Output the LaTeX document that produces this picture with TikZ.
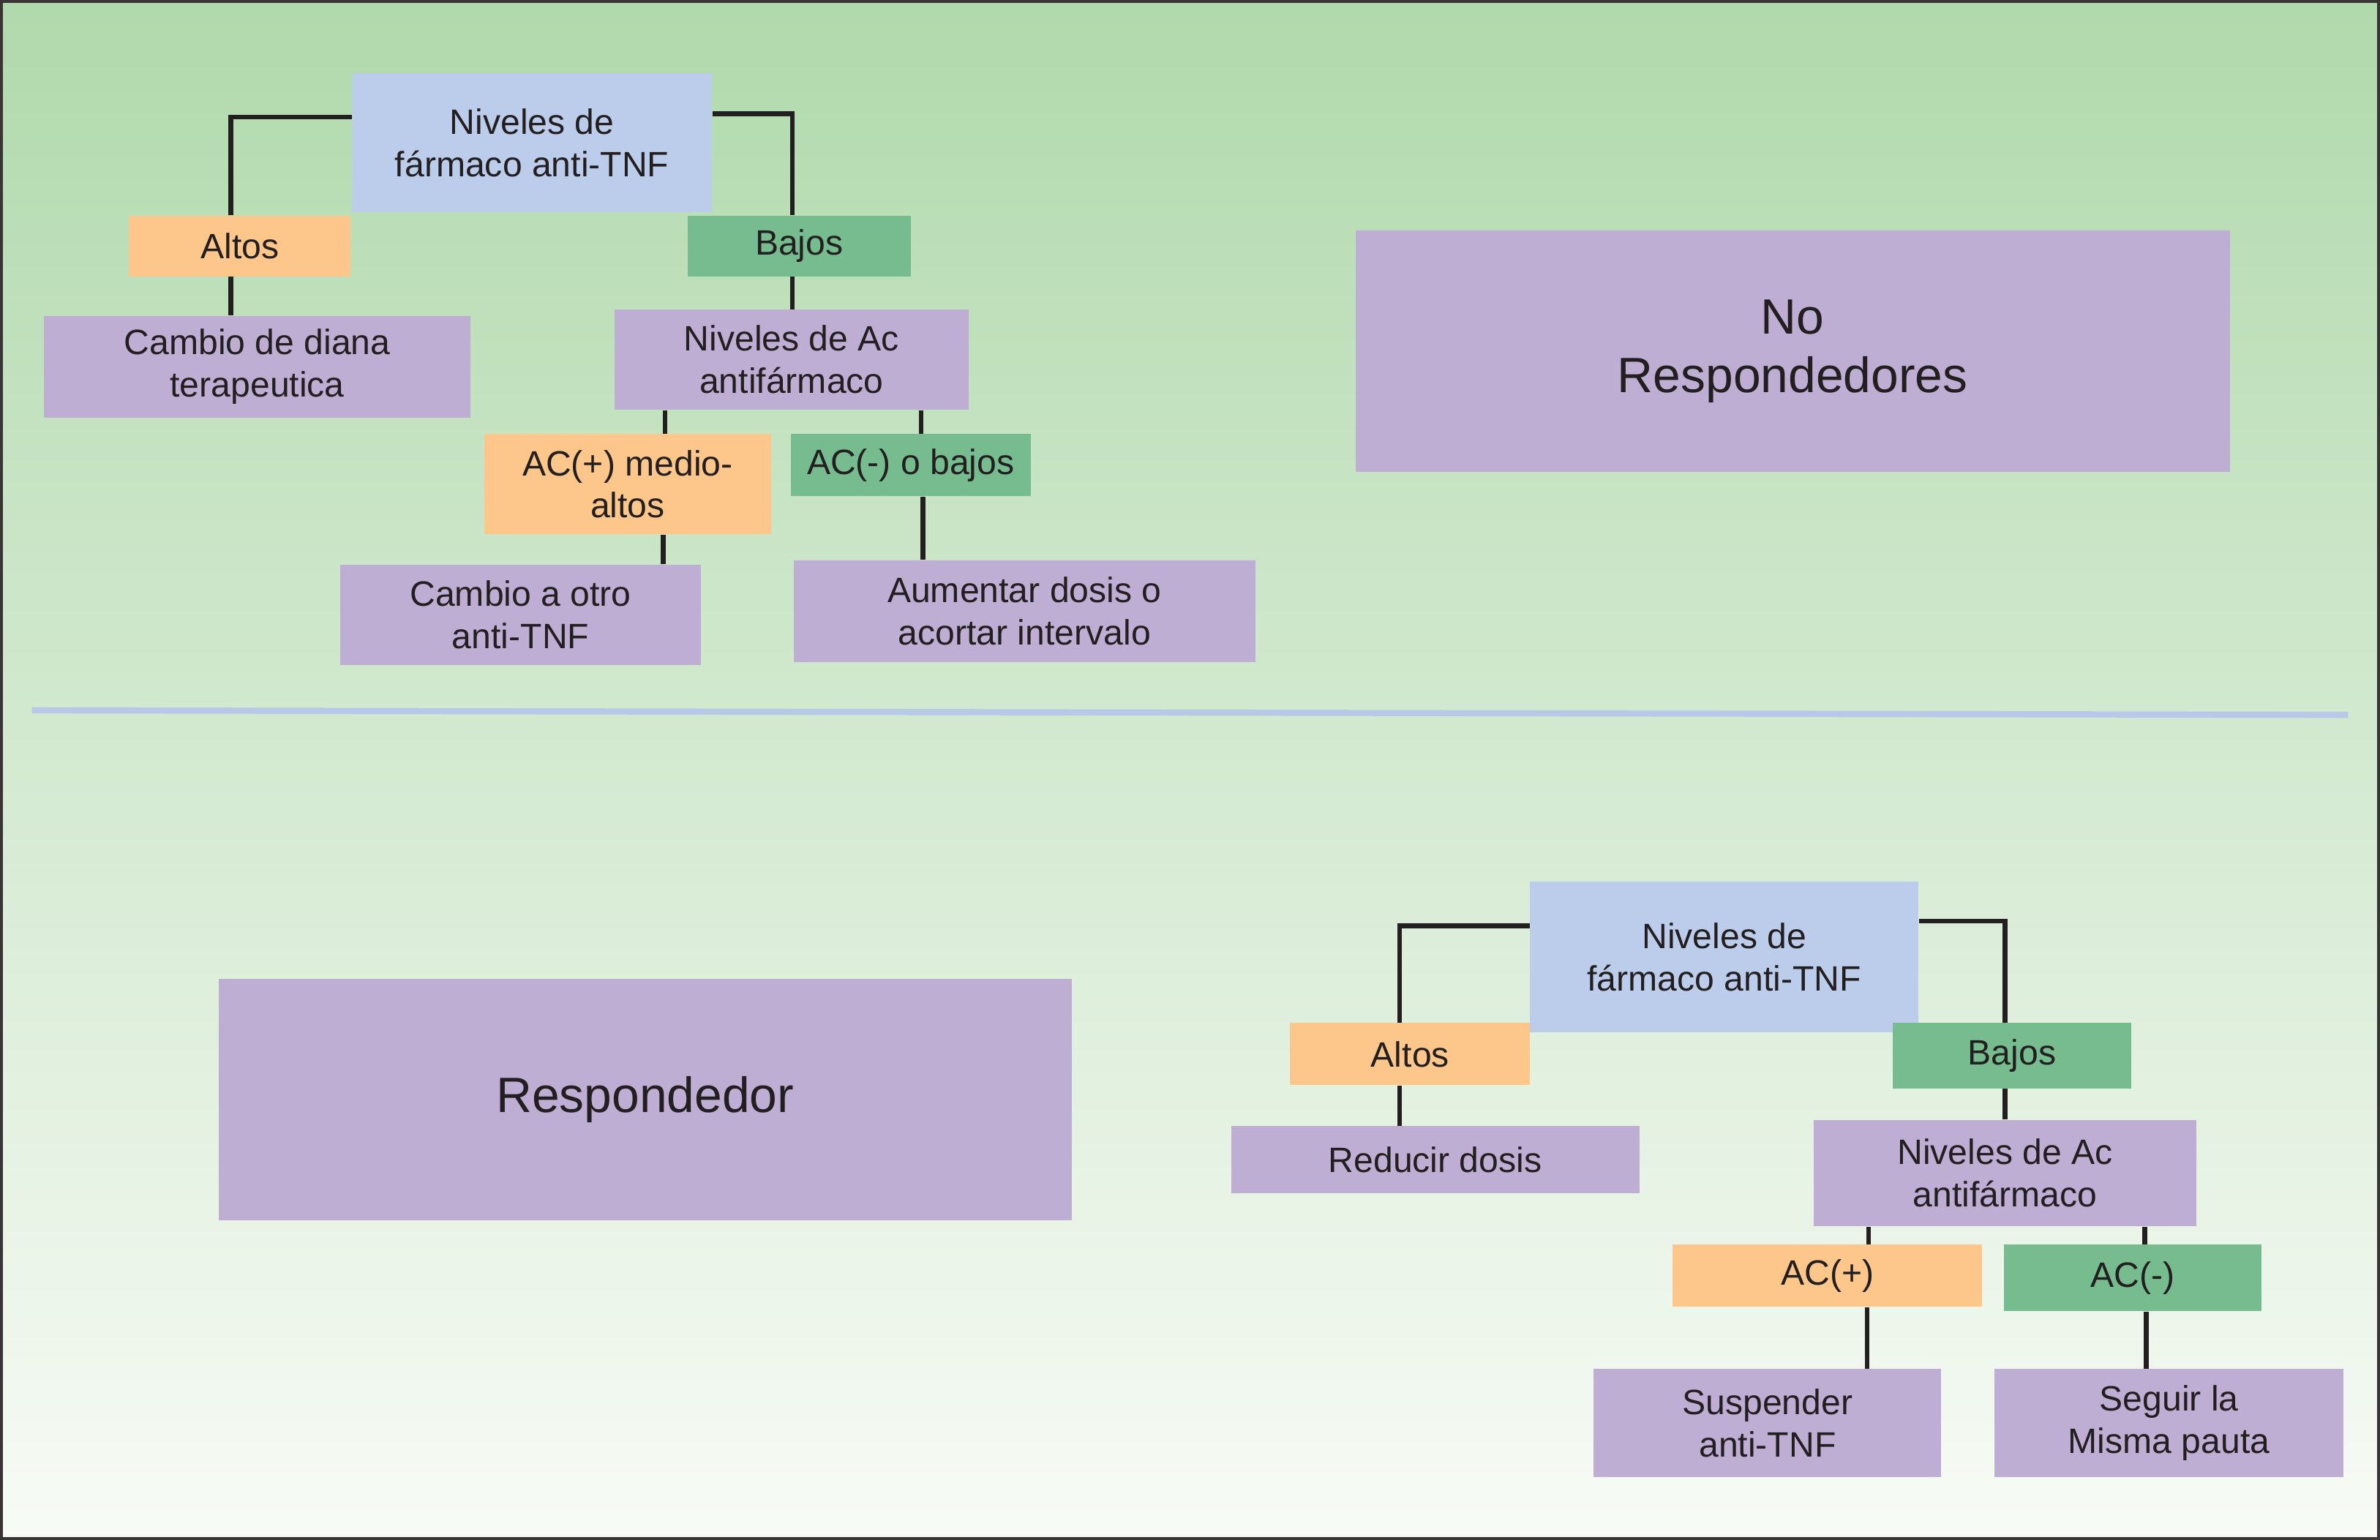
\documentclass[tikz,border=0pt]{standalone}
\usepackage{fontspec}
\setmainfont{Liberation Sans}
\usetikzlibrary{calc}
\definecolor{bgtop}{RGB}{176,217,172}
\definecolor{bgbot}{RGB}{248,251,246}
\definecolor{cblue}{RGB}{187,205,234}
\definecolor{corange}{RGB}{253,198,138}
\definecolor{cgreen}{RGB}{118,188,143}
\definecolor{cpurple}{RGB}{190,174,212}
\definecolor{csep}{RGB}{184,200,232}
\definecolor{ctext}{RGB}{35,31,32}
\newcommand\ux[1]{#1*0.020746cm}
\tikzset{
  boxat/.style args={#1/#2/#3/#4}{minimum width={(#3-#1)*0.020746cm}, minimum height={(#4-#2)*0.020746cm}, at={({(#1+#3)/2},{-(#2+#4)/2})}},
  box/.style={rectangle, inner sep=0pt, align=center, text=ctext, font=\fontsize{13.7}{16.5}\selectfont},
  bigbox/.style={box, fill=cpurple, font=\fontsize{19.3}{23}\selectfont},
  rootbox/.style={box, fill=cblue},
  hibox/.style={box, fill=corange},
  lobox/.style={box, fill=cgreen},
  actbox/.style={box, fill=cpurple},
  conn/.style={draw=ctext, line width=1.8pt}
}
\begin{document}
\begin{tikzpicture}[x=0.020746cm, y=0.020746cm]
\useasboundingbox (0,0) rectangle (1568,-1014.6);
\shade[top color=bgtop, bottom color=bgbot] (0,0) rectangle (1568,-1014.6);
\draw[line width=1.2pt, draw=ctext!90] (0.9,-0.9) rectangle (1567.1,-1013.7);
% separator
\draw[csep, line width=2.4pt] (21,-468) -- (1547,-471);

% ---------- top tree ----------
\node[rootbox, boxat=232/48/469/140] (r1) {Niveles de\\fármaco anti-TNF};
\node[hibox, boxat=85/142/231/182] (a1) {Altos};
\node[lobox, boxat=453/142/600/182] (b1) {Bajos};
\node[actbox, boxat=29/208/310/275] (c1) {Cambio de diana\\terapeutica};
\node[actbox, boxat=405/204/638/270] (n1) {Niveles de Ac\\antifármaco};
\node[hibox, boxat=319/286/508/352] (p1) {AC(+) medio-\\altos};
\node[lobox, boxat=521/286/679/327] (m1) {AC(-) o bajos};
\node[actbox, boxat=224/372/462/438] (o1) {Cambio a otro\\anti-TNF};
\node[actbox, boxat=523/369/827/436] (d1) {Aumentar dosis o\\acortar intervalo};
\node[bigbox, boxat=893/152/1469/311] (nr) {No\\Respondedores};

\draw[conn] ([yshift=\ux{17}]r1.west) -| ([xshift=\ux{-6}]a1.north);
\draw[conn] ([yshift=\ux{19}]r1.east) -| ([xshift=\ux{-4.5}]b1.north);
\draw[conn] ([xshift=\ux{-6}]a1.south) -- ([xshift=\ux{-6}]a1.south |- c1.north);
\draw[conn] ([xshift=\ux{-4.5}]b1.south) -- ([xshift=\ux{-4.5}]b1.south |- n1.north);
\draw[conn] ([xshift=\ux{24.5}]p1.north |- n1.south) -- ([xshift=\ux{24.5}]p1.north);
\draw[conn] ([xshift=\ux{7}]m1.north |- n1.south) -- ([xshift=\ux{7}]m1.north);
\draw[conn] ([xshift=\ux{23.5}]p1.south) -- ([xshift=\ux{23.5}]p1.south |- o1.north);
\draw[conn] ([xshift=\ux{8}]m1.south) -- ([xshift=\ux{8}]m1.south |- d1.north);

% ---------- bottom tree ----------
\node[rootbox, boxat=1008/581/1264/680] (r2) {Niveles de\\fármaco anti-TNF};
\node[hibox, boxat=850/674/1008/715] (a2) {Altos};
\node[lobox, boxat=1247/674/1404/717] (b2) {Bajos};
\node[actbox, boxat=811/742/1080/786] (c2) {Reducir dosis};
\node[actbox, boxat=1195/738/1447/808] (n2) {Niveles de Ac\\antifármaco};
\node[hibox, boxat=1102/820/1306/861] (p2) {AC(+)};
\node[lobox, boxat=1320/820/1490/864] (m2) {AC(-)};
\node[actbox, boxat=1050/902/1279/973] (s2) {Suspender\\anti-TNF};
\node[actbox, boxat=1314/902/1544/973] (g2) {Seguir la\\Misma pauta};
\node[bigbox, boxat=144/645/706/804] (rp) {Respondedor};

\draw[conn] ([yshift=\ux{20.5}]r2.west) -| ([xshift=\ux{-7}]a2.north);
\draw[conn] ([yshift=\ux{23.5}]r2.east) -| ([xshift=\ux{-4.5}]b2.north);
\draw[conn] ([xshift=\ux{-7}]a2.south) -- ([xshift=\ux{-7}]a2.south |- c2.north);
\draw[conn] ([xshift=\ux{-4.5}]b2.south) -- ([xshift=\ux{-4.5}]b2.south |- n2.north);
\draw[conn] ([xshift=\ux{27}]p2.north |- n2.south) -- ([xshift=\ux{27}]p2.north);
\draw[conn] ([xshift=\ux{8}]m2.north |- n2.south) -- ([xshift=\ux{8}]m2.north);
\draw[conn] ([xshift=\ux{26}]p2.south) -- ([xshift=\ux{26}]p2.south |- s2.north);
\draw[conn] ([xshift=\ux{9}]m2.south) -- ([xshift=\ux{9}]m2.south |- g2.north);
\end{tikzpicture}
\end{document}
